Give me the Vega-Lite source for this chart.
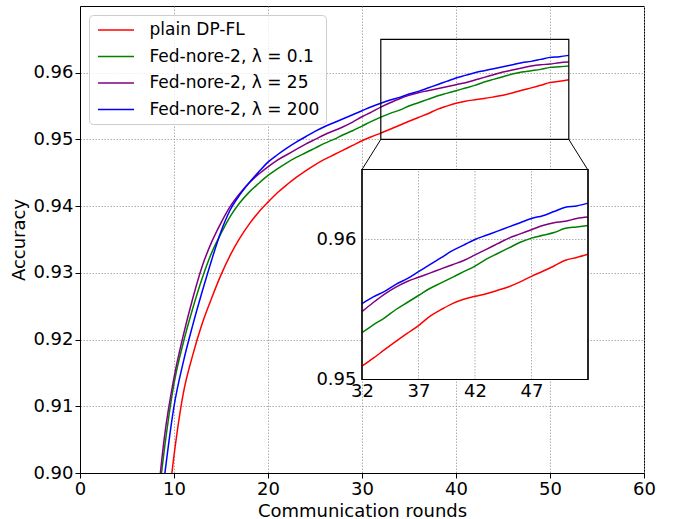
{
  "$schema": "https://vega.github.io/schema/vega-lite/v6.json",
  "width": 564,
  "height": 467,
  "autosize": {"type": "none"},
  "padding": {"left": 80, "top": 6, "right": 34, "bottom": 46},
  "datasets": {
    "curves": [
      {"series": "plain DP-FL", "x": 9, "acc": 0.8900},
      {"series": "plain DP-FL", "x": 10, "acc": 0.9026},
      {"series": "plain DP-FL", "x": 11, "acc": 0.9120},
      {"series": "plain DP-FL", "x": 12, "acc": 0.9177},
      {"series": "plain DP-FL", "x": 13, "acc": 0.9224},
      {"series": "plain DP-FL", "x": 14, "acc": 0.9262},
      {"series": "plain DP-FL", "x": 15, "acc": 0.9297},
      {"series": "plain DP-FL", "x": 16, "acc": 0.9327},
      {"series": "plain DP-FL", "x": 17, "acc": 0.9352},
      {"series": "plain DP-FL", "x": 18, "acc": 0.9373},
      {"series": "plain DP-FL", "x": 19, "acc": 0.9391},
      {"series": "plain DP-FL", "x": 20, "acc": 0.9406},
      {"series": "plain DP-FL", "x": 21, "acc": 0.9420},
      {"series": "plain DP-FL", "x": 22, "acc": 0.9432},
      {"series": "plain DP-FL", "x": 23, "acc": 0.9443},
      {"series": "plain DP-FL", "x": 24, "acc": 0.9453},
      {"series": "plain DP-FL", "x": 25, "acc": 0.9462},
      {"series": "plain DP-FL", "x": 26, "acc": 0.9470},
      {"series": "plain DP-FL", "x": 27, "acc": 0.9477},
      {"series": "plain DP-FL", "x": 28, "acc": 0.9484},
      {"series": "plain DP-FL", "x": 29, "acc": 0.9491},
      {"series": "plain DP-FL", "x": 30, "acc": 0.9498},
      {"series": "plain DP-FL", "x": 31, "acc": 0.9504},
      {"series": "plain DP-FL", "x": 32, "acc": 0.95095},
      {"series": "plain DP-FL", "x": 33, "acc": 0.95152},
      {"series": "plain DP-FL", "x": 34, "acc": 0.95213},
      {"series": "plain DP-FL", "x": 35, "acc": 0.95272},
      {"series": "plain DP-FL", "x": 36, "acc": 0.95329},
      {"series": "plain DP-FL", "x": 37, "acc": 0.95385},
      {"series": "plain DP-FL", "x": 38, "acc": 0.95451},
      {"series": "plain DP-FL", "x": 39, "acc": 0.95499},
      {"series": "plain DP-FL", "x": 40, "acc": 0.95542},
      {"series": "plain DP-FL", "x": 41, "acc": 0.95573},
      {"series": "plain DP-FL", "x": 42, "acc": 0.95594},
      {"series": "plain DP-FL", "x": 43, "acc": 0.95613},
      {"series": "plain DP-FL", "x": 44, "acc": 0.95637},
      {"series": "plain DP-FL", "x": 45, "acc": 0.95663},
      {"series": "plain DP-FL", "x": 46, "acc": 0.95697},
      {"series": "plain DP-FL", "x": 47, "acc": 0.95737},
      {"series": "plain DP-FL", "x": 48, "acc": 0.95773},
      {"series": "plain DP-FL", "x": 49, "acc": 0.95811},
      {"series": "plain DP-FL", "x": 50, "acc": 0.95852},
      {"series": "plain DP-FL", "x": 51, "acc": 0.95872},
      {"series": "plain DP-FL", "x": 52, "acc": 0.95895},

      {"series": "Fed-nore-2, λ = 0.1", "x": 8, "acc": 0.8915},
      {"series": "Fed-nore-2, λ = 0.1", "x": 9, "acc": 0.9038},
      {"series": "Fed-nore-2, λ = 0.1", "x": 10, "acc": 0.9134},
      {"series": "Fed-nore-2, λ = 0.1", "x": 11, "acc": 0.9196},
      {"series": "Fed-nore-2, λ = 0.1", "x": 12, "acc": 0.9247},
      {"series": "Fed-nore-2, λ = 0.1", "x": 13, "acc": 0.9292},
      {"series": "Fed-nore-2, λ = 0.1", "x": 14, "acc": 0.9330},
      {"series": "Fed-nore-2, λ = 0.1", "x": 15, "acc": 0.9359},
      {"series": "Fed-nore-2, λ = 0.1", "x": 16, "acc": 0.9385},
      {"series": "Fed-nore-2, λ = 0.1", "x": 17, "acc": 0.9405},
      {"series": "Fed-nore-2, λ = 0.1", "x": 18, "acc": 0.9421},
      {"series": "Fed-nore-2, λ = 0.1", "x": 19, "acc": 0.9434},
      {"series": "Fed-nore-2, λ = 0.1", "x": 20, "acc": 0.9446},
      {"series": "Fed-nore-2, λ = 0.1", "x": 21, "acc": 0.9456},
      {"series": "Fed-nore-2, λ = 0.1", "x": 22, "acc": 0.9465},
      {"series": "Fed-nore-2, λ = 0.1", "x": 23, "acc": 0.9473},
      {"series": "Fed-nore-2, λ = 0.1", "x": 24, "acc": 0.9480},
      {"series": "Fed-nore-2, λ = 0.1", "x": 25, "acc": 0.9487},
      {"series": "Fed-nore-2, λ = 0.1", "x": 26, "acc": 0.9494},
      {"series": "Fed-nore-2, λ = 0.1", "x": 27, "acc": 0.9500},
      {"series": "Fed-nore-2, λ = 0.1", "x": 28, "acc": 0.9507},
      {"series": "Fed-nore-2, λ = 0.1", "x": 29, "acc": 0.9513},
      {"series": "Fed-nore-2, λ = 0.1", "x": 30, "acc": 0.9520},
      {"series": "Fed-nore-2, λ = 0.1", "x": 31, "acc": 0.9527},
      {"series": "Fed-nore-2, λ = 0.1", "x": 32, "acc": 0.95334},
      {"series": "Fed-nore-2, λ = 0.1", "x": 33, "acc": 0.9539},
      {"series": "Fed-nore-2, λ = 0.1", "x": 34, "acc": 0.9544},
      {"series": "Fed-nore-2, λ = 0.1", "x": 35, "acc": 0.9550},
      {"series": "Fed-nore-2, λ = 0.1", "x": 36, "acc": 0.9555},
      {"series": "Fed-nore-2, λ = 0.1", "x": 37, "acc": 0.9560},
      {"series": "Fed-nore-2, λ = 0.1", "x": 38, "acc": 0.9565},
      {"series": "Fed-nore-2, λ = 0.1", "x": 39, "acc": 0.9569},
      {"series": "Fed-nore-2, λ = 0.1", "x": 40, "acc": 0.9573},
      {"series": "Fed-nore-2, λ = 0.1", "x": 41, "acc": 0.9577},
      {"series": "Fed-nore-2, λ = 0.1", "x": 42, "acc": 0.9581},
      {"series": "Fed-nore-2, λ = 0.1", "x": 43, "acc": 0.9586},
      {"series": "Fed-nore-2, λ = 0.1", "x": 44, "acc": 0.9590},
      {"series": "Fed-nore-2, λ = 0.1", "x": 45, "acc": 0.9594},
      {"series": "Fed-nore-2, λ = 0.1", "x": 46, "acc": 0.9598},
      {"series": "Fed-nore-2, λ = 0.1", "x": 47, "acc": 0.9601},
      {"series": "Fed-nore-2, λ = 0.1", "x": 48, "acc": 0.9603},
      {"series": "Fed-nore-2, λ = 0.1", "x": 49, "acc": 0.9605},
      {"series": "Fed-nore-2, λ = 0.1", "x": 50, "acc": 0.9608},
      {"series": "Fed-nore-2, λ = 0.1", "x": 51, "acc": 0.9609},
      {"series": "Fed-nore-2, λ = 0.1", "x": 52, "acc": 0.9610},

      {"series": "Fed-nore-2, λ = 25", "x": 8, "acc": 0.8923},
      {"series": "Fed-nore-2, λ = 25", "x": 9, "acc": 0.9056},
      {"series": "Fed-nore-2, λ = 25", "x": 10, "acc": 0.9143},
      {"series": "Fed-nore-2, λ = 25", "x": 11, "acc": 0.9207},
      {"series": "Fed-nore-2, λ = 25", "x": 12, "acc": 0.9262},
      {"series": "Fed-nore-2, λ = 25", "x": 13, "acc": 0.9310},
      {"series": "Fed-nore-2, λ = 25", "x": 14, "acc": 0.9346},
      {"series": "Fed-nore-2, λ = 25", "x": 15, "acc": 0.9375},
      {"series": "Fed-nore-2, λ = 25", "x": 16, "acc": 0.9400},
      {"series": "Fed-nore-2, λ = 25", "x": 17, "acc": 0.9419},
      {"series": "Fed-nore-2, λ = 25", "x": 18, "acc": 0.9435},
      {"series": "Fed-nore-2, λ = 25", "x": 19, "acc": 0.9448},
      {"series": "Fed-nore-2, λ = 25", "x": 20, "acc": 0.9459},
      {"series": "Fed-nore-2, λ = 25", "x": 21, "acc": 0.9469},
      {"series": "Fed-nore-2, λ = 25", "x": 22, "acc": 0.9477},
      {"series": "Fed-nore-2, λ = 25", "x": 23, "acc": 0.9485},
      {"series": "Fed-nore-2, λ = 25", "x": 24, "acc": 0.9493},
      {"series": "Fed-nore-2, λ = 25", "x": 25, "acc": 0.9500},
      {"series": "Fed-nore-2, λ = 25", "x": 26, "acc": 0.9507},
      {"series": "Fed-nore-2, λ = 25", "x": 27, "acc": 0.9513},
      {"series": "Fed-nore-2, λ = 25", "x": 28, "acc": 0.9519},
      {"series": "Fed-nore-2, λ = 25", "x": 29, "acc": 0.9526},
      {"series": "Fed-nore-2, λ = 25", "x": 30, "acc": 0.9534},
      {"series": "Fed-nore-2, λ = 25", "x": 31, "acc": 0.9541},
      {"series": "Fed-nore-2, λ = 25", "x": 32, "acc": 0.95485},
      {"series": "Fed-nore-2, λ = 25", "x": 33, "acc": 0.9555},
      {"series": "Fed-nore-2, λ = 25", "x": 34, "acc": 0.9561},
      {"series": "Fed-nore-2, λ = 25", "x": 35, "acc": 0.9566},
      {"series": "Fed-nore-2, λ = 25", "x": 36, "acc": 0.9570},
      {"series": "Fed-nore-2, λ = 25", "x": 37, "acc": 0.9573},
      {"series": "Fed-nore-2, λ = 25", "x": 38, "acc": 0.9576},
      {"series": "Fed-nore-2, λ = 25", "x": 39, "acc": 0.9579},
      {"series": "Fed-nore-2, λ = 25", "x": 40, "acc": 0.9582},
      {"series": "Fed-nore-2, λ = 25", "x": 41, "acc": 0.9585},
      {"series": "Fed-nore-2, λ = 25", "x": 42, "acc": 0.9589},
      {"series": "Fed-nore-2, λ = 25", "x": 43, "acc": 0.9593},
      {"series": "Fed-nore-2, λ = 25", "x": 44, "acc": 0.9597},
      {"series": "Fed-nore-2, λ = 25", "x": 45, "acc": 0.9601},
      {"series": "Fed-nore-2, λ = 25", "x": 46, "acc": 0.9604},
      {"series": "Fed-nore-2, λ = 25", "x": 47, "acc": 0.9607},
      {"series": "Fed-nore-2, λ = 25", "x": 48, "acc": 0.9610},
      {"series": "Fed-nore-2, λ = 25", "x": 49, "acc": 0.9612},
      {"series": "Fed-nore-2, λ = 25", "x": 50, "acc": 0.9613},
      {"series": "Fed-nore-2, λ = 25", "x": 51, "acc": 0.9615},
      {"series": "Fed-nore-2, λ = 25", "x": 52, "acc": 0.9616},

      {"series": "Fed-nore-2, λ = 200", "x": 8, "acc": 0.8870},
      {"series": "Fed-nore-2, λ = 200", "x": 9, "acc": 0.8996},
      {"series": "Fed-nore-2, λ = 200", "x": 10, "acc": 0.9100},
      {"series": "Fed-nore-2, λ = 200", "x": 11, "acc": 0.9167},
      {"series": "Fed-nore-2, λ = 200", "x": 12, "acc": 0.9222},
      {"series": "Fed-nore-2, λ = 200", "x": 13, "acc": 0.9272},
      {"series": "Fed-nore-2, λ = 200", "x": 14, "acc": 0.9319},
      {"series": "Fed-nore-2, λ = 200", "x": 15, "acc": 0.9362},
      {"series": "Fed-nore-2, λ = 200", "x": 16, "acc": 0.9395},
      {"series": "Fed-nore-2, λ = 200", "x": 17, "acc": 0.9417},
      {"series": "Fed-nore-2, λ = 200", "x": 18, "acc": 0.9435},
      {"series": "Fed-nore-2, λ = 200", "x": 19, "acc": 0.9451},
      {"series": "Fed-nore-2, λ = 200", "x": 20, "acc": 0.9466},
      {"series": "Fed-nore-2, λ = 200", "x": 21, "acc": 0.9477},
      {"series": "Fed-nore-2, λ = 200", "x": 22, "acc": 0.9487},
      {"series": "Fed-nore-2, λ = 200", "x": 23, "acc": 0.9496},
      {"series": "Fed-nore-2, λ = 200", "x": 24, "acc": 0.9504},
      {"series": "Fed-nore-2, λ = 200", "x": 25, "acc": 0.9512},
      {"series": "Fed-nore-2, λ = 200", "x": 26, "acc": 0.9519},
      {"series": "Fed-nore-2, λ = 200", "x": 27, "acc": 0.9525},
      {"series": "Fed-nore-2, λ = 200", "x": 28, "acc": 0.9531},
      {"series": "Fed-nore-2, λ = 200", "x": 29, "acc": 0.9537},
      {"series": "Fed-nore-2, λ = 200", "x": 30, "acc": 0.9543},
      {"series": "Fed-nore-2, λ = 200", "x": 31, "acc": 0.9549},
      {"series": "Fed-nore-2, λ = 200", "x": 32, "acc": 0.95542},
      {"series": "Fed-nore-2, λ = 200", "x": 33, "acc": 0.9559},
      {"series": "Fed-nore-2, λ = 200", "x": 34, "acc": 0.9563},
      {"series": "Fed-nore-2, λ = 200", "x": 35, "acc": 0.9568},
      {"series": "Fed-nore-2, λ = 200", "x": 36, "acc": 0.9572},
      {"series": "Fed-nore-2, λ = 200", "x": 37, "acc": 0.9577},
      {"series": "Fed-nore-2, λ = 200", "x": 38, "acc": 0.9582},
      {"series": "Fed-nore-2, λ = 200", "x": 39, "acc": 0.9587},
      {"series": "Fed-nore-2, λ = 200", "x": 40, "acc": 0.9592},
      {"series": "Fed-nore-2, λ = 200", "x": 41, "acc": 0.9596},
      {"series": "Fed-nore-2, λ = 200", "x": 42, "acc": 0.9600},
      {"series": "Fed-nore-2, λ = 200", "x": 43, "acc": 0.9603},
      {"series": "Fed-nore-2, λ = 200", "x": 44, "acc": 0.9606},
      {"series": "Fed-nore-2, λ = 200", "x": 45, "acc": 0.9609},
      {"series": "Fed-nore-2, λ = 200", "x": 46, "acc": 0.9612},
      {"series": "Fed-nore-2, λ = 200", "x": 47, "acc": 0.9615},
      {"series": "Fed-nore-2, λ = 200", "x": 48, "acc": 0.9617},
      {"series": "Fed-nore-2, λ = 200", "x": 49, "acc": 0.9620},
      {"series": "Fed-nore-2, λ = 200", "x": 50, "acc": 0.9623},
      {"series": "Fed-nore-2, λ = 200", "x": 51, "acc": 0.9624},
      {"series": "Fed-nore-2, λ = 200", "x": 52, "acc": 0.9626}
    ],
    "zoombox": [{"x": 32, "x2": 52, "acc": 0.95, "acc2": 0.965}],
    "connectors": [
      {"x": 32, "x2": 30, "acc": 0.95, "acc2": 0.94549},
      {"x": 52, "x2": 54, "acc": 0.95, "acc2": 0.94549}
    ],
    "insetgrid": [
      {"x": 37, "x2": 37, "acc": 0.95, "acc2": 0.965},
      {"x": 42, "x2": 42, "acc": 0.95, "acc2": 0.965},
      {"x": 47, "x2": 47, "acc": 0.95, "acc2": 0.965},
      {"x": 32, "x2": 52, "acc": 0.96, "acc2": 0.96}
    ]
  },
  "layer": [
    {
      "encoding": {
        "x": {
          "field": "x", "type": "quantitative",
          "scale": {"domain": [0, 60], "nice": false, "zero": false},
          "axis": {"values": [0, 10, 20, 30, 40, 50, 60], "title": "Communication rounds", "grid": true, "labelFlush": false, "labelPadding": 2, "titlePadding": 4}
        },
        "y": {
          "field": "acc", "type": "quantitative",
          "scale": {"domain": [0.90, 0.97], "nice": false, "zero": false},
          "axis": {"values": [0.90, 0.91, 0.92, 0.93, 0.94, 0.95, 0.96], "format": ".2f", "title": "Accuracy", "grid": true, "labelPadding": 2, "titlePadding": 4}
        }
      },
      "layer": [
        {
          "data": {"name": "curves"},
          "mark": {"type": "line", "clip": true, "strokeWidth": 1.5, "interpolate": "monotone"},
          "encoding": {
            "color": {
              "field": "series", "type": "nominal",
              "scale": {
                "domain": ["plain DP-FL", "Fed-nore-2, λ = 0.1", "Fed-nore-2, λ = 25", "Fed-nore-2, λ = 200"],
                "range": ["#ff0000", "#008000", "#800080", "#0000ff"]
              },
              "legend": {
                "title": null, "orient": "top-left", "offset": 9,
                "symbolType": "M-1,0H5", "symbolSize": 144, "symbolStrokeWidth": 1.5,
                "labelFont": "DejaVu Sans", "labelFontSize": 17, "labelColor": "black",
                "labelOffset": 37, "rowPadding": 8.5, "padding": 6.5, "labelLimit": 400,
                "fillColor": "rgba(255,255,255,0.8)", "strokeColor": "#cccccc", "cornerRadius": 4
              }
            }
          }
        },
        {
          "data": {"name": "zoombox"},
          "mark": {"type": "rect", "fill": null, "fillOpacity": 0, "stroke": "black", "strokeWidth": 1.2},
          "encoding": {"x2": {"field": "x2"}, "y2": {"field": "acc2"}}
        },
        {
          "data": {"name": "connectors"},
          "mark": {"type": "rule", "color": "black", "strokeWidth": 1},
          "encoding": {"x2": {"field": "x2"}, "y2": {"field": "acc2"}}
        }
      ]
    },
    {
      "encoding": {
        "x": {
          "field": "x", "type": "quantitative",
          "scale": {"domain": [32, 52], "nice": false, "zero": false, "range": [282, 508]},
          "axis": {"orient": "bottom", "offset": -93.5, "values": [32, 37, 42, 47], "title": null, "grid": false, "ticks": false, "domain": false, "labelFlush": false, "labelPadding": 3}
        },
        "y": {
          "field": "acc", "type": "quantitative",
          "scale": {"domain": [0.95, 0.965], "nice": false, "zero": false, "range": [373.5, 163.5]},
          "axis": {"orient": "left", "offset": -282, "values": [0.95, 0.96], "format": ".2f", "title": null, "grid": false, "ticks": false, "domain": false, "labelPadding": 6}
        }
      },
      "layer": [
        {
          "data": {"name": "zoombox"},
          "mark": {"type": "rect", "fill": "white", "stroke": "black", "strokeWidth": 1.2},
          "encoding": {"x2": {"field": "x2"}, "y2": {"field": "acc2"}}
        },
        {
          "data": {"name": "insetgrid"},
          "mark": {"type": "rule", "color": "#999999", "strokeWidth": 0.8, "strokeDash": [1.5, 1.5]},
          "encoding": {"x2": {"field": "x2"}, "y2": {"field": "acc2"}}
        },
        {
          "data": {"name": "curves"},
          "transform": [{"filter": "datum.x >= 32"}],
          "mark": {"type": "line", "strokeWidth": 1.5, "interpolate": "monotone"},
          "encoding": {
            "color": {
              "field": "series", "type": "nominal",
              "scale": {
                "domain": ["plain DP-FL", "Fed-nore-2, λ = 0.1", "Fed-nore-2, λ = 25", "Fed-nore-2, λ = 200"],
                "range": ["#ff0000", "#008000", "#800080", "#0000ff"]
              }
            }
          }
        },
        {
          "data": {"name": "zoombox"},
          "mark": {"type": "rect", "fill": null, "fillOpacity": 0, "stroke": "black", "strokeWidth": 1.2},
          "encoding": {"x2": {"field": "x2"}, "y2": {"field": "acc2"}}
        }
      ]
    }
  ],
  "resolve": {
    "scale": {"x": "independent", "y": "independent"},
    "axis": {"x": "independent", "y": "independent"}
  },
  "config": {
    "font": "DejaVu Sans",
    "view": {"stroke": "black", "strokeWidth": 1},
    "axis": {
      "labelFont": "DejaVu Sans", "labelFontSize": 18, "labelColor": "black",
      "titleFont": "DejaVu Sans", "titleFontSize": 18, "titleFontWeight": "normal", "titleColor": "black",
      "domainColor": "black", "domainWidth": 1, "tickColor": "black", "tickSize": 5, "tickWidth": 1,
      "gridColor": "#999999", "gridDash": [1.5, 1.5], "gridWidth": 0.8
    }
  }
}
